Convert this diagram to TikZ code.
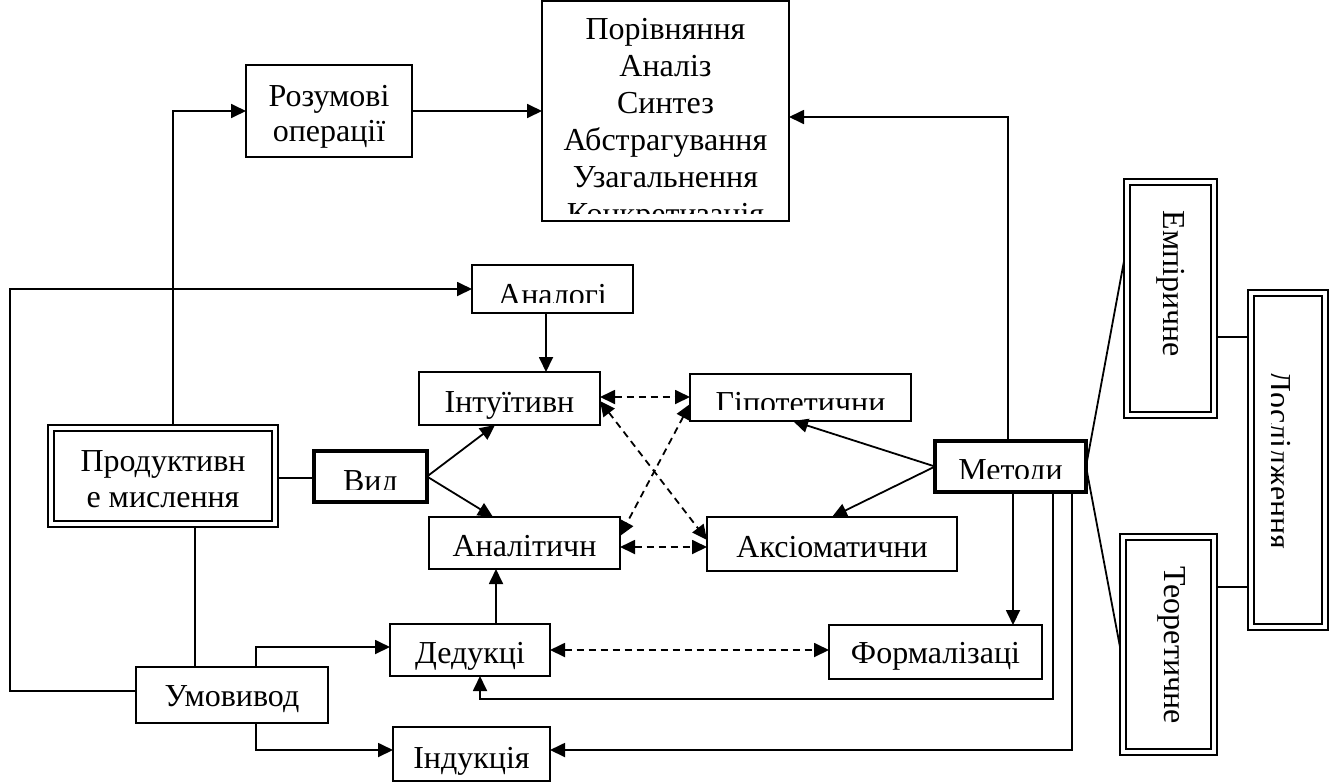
\documentclass[tikz,border=0pt]{standalone}
\usepackage{fontspec}
\setmainfont{Liberation Serif}
\usetikzlibrary{arrows.meta}
\newcommand\mkbox[6]{\node[#1, minimum width={(#5-#3)*1pt}, minimum height={(#6-#4)*1pt}] (#2) at ({(#3+#5)/2},{(#4+#6)/2}) {};}
\begin{document}
\begin{tikzpicture}[x=1pt,y=-1pt,
  box/.style={draw, line width=1.7pt, inner sep=0pt, outer sep=0pt},
  thickbox/.style={draw, line width=3.6pt, inner sep=0pt, outer sep=0pt},
  dblbox/.style={draw, line width=1.6pt, inner sep=0pt, outer sep=0pt},
  txt/.style={anchor=base, inner sep=0pt, font=\fontsize{32}{37}\selectfont},
  link/.style={line width=1.8pt},
  arr/.style={line width=1.8pt, -{Triangle[length=15pt,width=14pt]}},
  darr/.style={line width=1.8pt, dash pattern=on 7pt off 5pt, {Triangle[length=15pt,width=14pt]}-{Triangle[length=15pt,width=14pt]}},
]
\useasboundingbox (0,0) rectangle (1329,782);
% boxes
\mkbox{box}{ops}{542}{1}{789}{221}
\mkbox{box}{roz}{246}{65}{412}{157}
\mkbox{dblbox}{prod}{48}{425}{278}{527}
\mkbox{thickbox}{vyd}{314}{451}{427}{502}
\mkbox{box}{anlg}{472}{265}{633}{313}
\mkbox{box}{intu}{419}{372}{600}{425}
\mkbox{box}{hyp}{690}{374}{911}{421}
\mkbox{box}{anal}{429}{517}{620}{569}
\mkbox{box}{axio}{707}{517}{957}{571}
\mkbox{thickbox}{meth}{935}{441}{1086}{492}
\mkbox{box}{ded}{390}{624}{550}{676}
\mkbox{box}{form}{829}{625}{1042}{679}
\mkbox{box}{umov}{136}{667}{328}{723}
\mkbox{box}{ind}{393}{727}{550}{781}
\mkbox{dblbox}{emp}{1124}{179}{1217}{418}
\mkbox{dblbox}{teor}{1120}{534}{1217}{755}
\mkbox{dblbox}{dosl}{1248}{290}{1328}{630}
\foreach \n in {prod,emp,teor,dosl}
  \draw[line width=2.8pt] ([shift={(6,6)}]\n.north west) rectangle ([shift={(-6,-6)}]\n.south east);
% texts
\begin{scope}
\clip (543,2) rectangle (788,213);
\node[txt] (o1) at (665.5,39) {Порівняння};
\node[txt] (o2) at (665.5,76) {Аналіз};
\node[txt] (o3) at (665.5,113) {Синтез};
\node[txt] (o4) at (665.5,150) {Абстрагування};
\node[txt] (o5) at (665.5,187) {Узагальнення};
\node[txt] (o6) at (665.5,224) {Конкретизація};
\end{scope}
\node[txt] (r1) at (329,106) {Розумові};
\node[txt] (r2) at (329,141) {операції};
\node[txt] (p1) at (163,471) {Продуктивн};
\node[txt] (p2) at (163,507) {е мислення};
\begin{scope}
\clip (316,453) rectangle (425,489.5);
\node[txt] (vt) at (370.5,491) {Вид};
\end{scope}
\begin{scope}
\clip (473,266) rectangle (632,302);
\node[txt] (at) at (552.5,305) {Аналогі};
\end{scope}
\node[txt] (it) at (509.5,412) {Інтуїтивн};
\begin{scope}
\clip (691,375) rectangle (910,409);
\node[txt] (ht) at (800.5,413) {Гіпотетични};
\end{scope}
\node[txt] (ant) at (524.5,556) {Аналітичн};
\node[txt] (axt) at (832,557) {Аксіоматични};
\begin{scope}
\clip (937,443) rectangle (1084,478.5);
\node[txt] (mt) at (1010.5,480) {Методи};
\end{scope}
\node[txt] (dt) at (470,663) {Дедукці};
\node[txt] (ft) at (935.5,663) {Формалізаці};
\node[txt] (ut) at (232,706) {Умовивод};
\node[txt] (indt) at (471.5,768) {Індукція};
\node[txt, rotate=-90] (et) at (1163,284) {Емпіричне};
\node[txt, rotate=-90] (tt) at (1164,645) {Теоретичне};
\begin{scope}
\clip (1271,291) rectangle (1327,629);
\node[txt, rotate=-90] (dst) at (1269,460) {Дослідження};
\end{scope}
% connectors
\draw[arr] (prod.north -| 173,0) |- (roz.west);
\draw[arr] (roz.east) -- (roz.east -| ops.west);
\draw[arr] (meth.north -| 1008,0) |- (ops.east |- 0,117);
\draw[link] (prod.east |- 0,478) -- (vyd.west |- 0,478);
\draw[arr] (vyd.east) -- (intu.south -| 495,0);
\draw[arr] (vyd.east) -- (anal.north -| 493,0);
\draw[arr] (anlg.south -| 546,0) -- (intu.north -| 546,0);
\draw[arr] (umov.west |- 0,691) -| (10,289) -- (anlg.west);
\draw[link] (prod.south -| 195,0) -- (umov.north -| 195,0);
\draw[arr] (umov.north -| 256,0) |- (ded.west |- 0,647);
\draw[arr] (umov.south -| 256,0) |- (ind.west |- 0,750);
\draw[arr] (ded.north -| 496,0) -- (anal.south -| 496,0);
\draw[arr] (meth.west) -- (hyp.south -| 793,0);
\draw[arr] (meth.west) -- (axio.north -| 832,0);
\draw[arr] (meth.south -| 1013,0) -- (form.north -| 1013,0);
\draw[arr] (meth.south -| 1053,0) |- (480,699) -- (ded.south -| 480,0);
\draw[arr] (meth.south -| 1072,0) |- (ind.east |- 0,750);
\draw[link] (meth.east) -- (emp.west |- 0,261);
\draw[link] (meth.east) -- (teor.west |- 0,647);
\draw[link] (emp.east |- 0,337) -- (dosl.west |- 0,337);
\draw[link] (teor.east |- 0,587) -- (dosl.west |- 0,587);
\draw[darr] (intu.east |- 0,397) -- (hyp.west |- 0,397);
\draw[darr] (intu.east |- 0,401) -- (axio.west |- 0,540);
\draw[darr] (hyp.west |- 0,404) -- (anal.east |- 0,536);
\draw[darr] (anal.east |- 0,547) -- (axio.west |- 0,547);
\draw[darr] (ded.east) -- (form.west |- ded.east);
\end{tikzpicture}
\end{document}
